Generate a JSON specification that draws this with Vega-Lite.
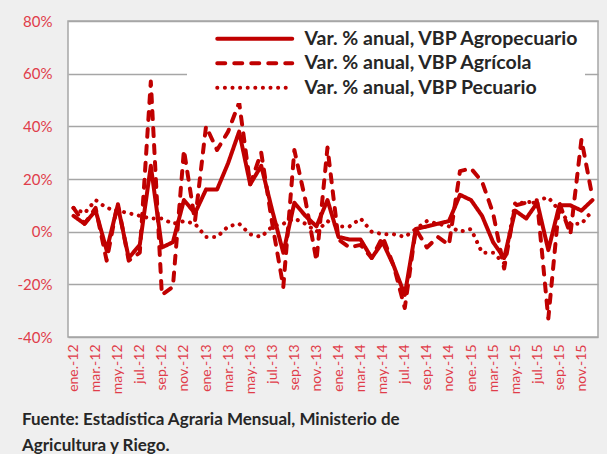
{
  "$schema": "https://vega.github.io/schema/vega-lite/v6.json",
  "width": 530,
  "height": 316,
  "autosize": {"type": "none"},
  "padding": {"left": 68, "top": 21, "right": 9, "bottom": 117},
  "background": "#efefef",
  "config": {
    "view": {"fill": "white", "stroke": "#a6a6a6", "strokeWidth": 1.5},
    "font": "Lato"
  },
  "title": {
    "text": ["Fuente: Estadística Agraria Mensual, Ministerio de", "Agricultura y Riego."],
    "orient": "bottom",
    "anchor": "start",
    "frame": "group",
    "dx": -46,
    "offset": 18,
    "font": "Lato",
    "fontSize": 17,
    "fontWeight": "bold",
    "color": "#262626",
    "lineHeight": 26
  },
  "data": {
    "values": [
      {"mes": "ene.-12", "Agropecuario": 6, "Agrícola": 9, "Pecuario": 9},
      {"mes": "feb.-12", "Agropecuario": 3, "Agrícola": 3, "Pecuario": 7},
      {"mes": "mar.-12", "Agropecuario": 8, "Agrícola": 9, "Pecuario": 12},
      {"mes": "abr.-12", "Agropecuario": -7, "Agrícola": -11, "Pecuario": 9},
      {"mes": "may.-12", "Agropecuario": 10, "Agrícola": 11, "Pecuario": 8},
      {"mes": "jun.-12", "Agropecuario": -10, "Agrícola": -11, "Pecuario": 7},
      {"mes": "jul.-12", "Agropecuario": -5, "Agrícola": -8, "Pecuario": 6},
      {"mes": "ago.-12", "Agropecuario": 25, "Agrícola": 57, "Pecuario": 5},
      {"mes": "sep.-12", "Agropecuario": -6, "Agrícola": -24, "Pecuario": 5},
      {"mes": "oct.-12", "Agropecuario": -4, "Agrícola": -21, "Pecuario": 3},
      {"mes": "nov.-12", "Agropecuario": 12, "Agrícola": 31, "Pecuario": 4},
      {"mes": "dic.-12", "Agropecuario": 7, "Agrícola": 4, "Pecuario": 3},
      {"mes": "ene.-13", "Agropecuario": 16, "Agrícola": 40, "Pecuario": -2},
      {"mes": "feb.-13", "Agropecuario": 16, "Agrícola": 31, "Pecuario": -2},
      {"mes": "mar.-13", "Agropecuario": 26, "Agrícola": 38, "Pecuario": 2},
      {"mes": "abr.-13", "Agropecuario": 38, "Agrícola": 49, "Pecuario": 3},
      {"mes": "may.-13", "Agropecuario": 18, "Agrícola": 18, "Pecuario": -1},
      {"mes": "jun.-13", "Agropecuario": 25, "Agrícola": 30, "Pecuario": -2},
      {"mes": "jul.-13", "Agropecuario": 8, "Agrícola": 3, "Pecuario": 2},
      {"mes": "ago.-13", "Agropecuario": -8, "Agrícola": -21, "Pecuario": 3},
      {"mes": "sep.-13", "Agropecuario": 11, "Agrícola": 31, "Pecuario": 5},
      {"mes": "oct.-13", "Agropecuario": 6, "Agrícola": 12, "Pecuario": 3},
      {"mes": "nov.-13", "Agropecuario": 2, "Agrícola": -11, "Pecuario": 0},
      {"mes": "dic.-13", "Agropecuario": 12, "Agrícola": 32, "Pecuario": 4},
      {"mes": "ene.-14", "Agropecuario": -2, "Agrícola": -3, "Pecuario": 2},
      {"mes": "feb.-14", "Agropecuario": -3, "Agrícola": -6, "Pecuario": 2},
      {"mes": "mar.-14", "Agropecuario": -3, "Agrícola": -5, "Pecuario": 5},
      {"mes": "abr.-14", "Agropecuario": -10, "Agrícola": -10, "Pecuario": 0},
      {"mes": "may.-14", "Agropecuario": -4, "Agrícola": -2, "Pecuario": -1},
      {"mes": "jun.-14", "Agropecuario": -13, "Agrícola": -13, "Pecuario": -1},
      {"mes": "jul.-14", "Agropecuario": -24, "Agrícola": -29, "Pecuario": -2},
      {"mes": "ago.-14", "Agropecuario": 1, "Agrícola": 1, "Pecuario": 1},
      {"mes": "sep.-14", "Agropecuario": 2, "Agrícola": -6, "Pecuario": 4},
      {"mes": "oct.-14", "Agropecuario": 3, "Agrícola": -2, "Pecuario": 3},
      {"mes": "nov.-14", "Agropecuario": 4, "Agrícola": -5, "Pecuario": 2},
      {"mes": "dic.-14", "Agropecuario": 14, "Agrícola": 23, "Pecuario": 0},
      {"mes": "ene.-15", "Agropecuario": 12, "Agrícola": 24, "Pecuario": 1},
      {"mes": "feb.-15", "Agropecuario": 6, "Agrícola": 19, "Pecuario": -8},
      {"mes": "mar.-15", "Agropecuario": -4, "Agrícola": 7, "Pecuario": -8},
      {"mes": "abr.-15", "Agropecuario": -10, "Agrícola": -14, "Pecuario": -12},
      {"mes": "may.-15", "Agropecuario": 8, "Agrícola": 10, "Pecuario": 11},
      {"mes": "jun.-15", "Agropecuario": 5, "Agrícola": 11, "Pecuario": 11},
      {"mes": "jul.-15", "Agropecuario": 11, "Agrícola": 11, "Pecuario": 12},
      {"mes": "ago.-15", "Agropecuario": -7, "Agrícola": -33, "Pecuario": 13},
      {"mes": "sep.-15", "Agropecuario": 10, "Agrícola": 11, "Pecuario": 8},
      {"mes": "oct.-15", "Agropecuario": 10, "Agrícola": -1, "Pecuario": 3},
      {"mes": "nov.-15", "Agropecuario": 8, "Agrícola": 35, "Pecuario": 3},
      {"mes": "dic.-15", "Agropecuario": 12, "Agrícola": 13, "Pecuario": 8}
    ]
  },
  "transform": [
    {"fold": ["Agropecuario", "Agrícola", "Pecuario"], "as": ["serie", "valor"]}
  ],
  "mark": {
    "type": "line",
    "color": "#c00000",
    "strokeWidth": 4,
    "strokeCap": "round",
    "strokeJoin": "round"
  },
  "encoding": {
    "x": {
      "field": "mes",
      "type": "ordinal",
      "sort": null,
      "scale": {"type": "point", "padding": 0.5},
      "axis": {
        "title": null,
        "values": ["ene.-12", "mar.-12", "may.-12", "jul.-12", "sep.-12", "nov.-12", "ene.-13", "mar.-13", "may.-13", "jul.-13", "sep.-13", "nov.-13", "ene.-14", "mar.-14", "may.-14", "jul.-14", "sep.-14", "nov.-14", "ene.-15", "mar.-15", "may.-15", "jul.-15", "sep.-15", "nov.-15"],
        "labelAngle": 270,
        "labelColor": "#e03c4a",
        "labelFont": "Lato",
        "labelFontSize": 14,
        "labelPadding": 7,
        "ticks": false,
        "domain": false,
        "grid": false
      }
    },
    "y": {
      "field": "valor",
      "type": "quantitative",
      "scale": {"domain": [-40, 80], "nice": false, "zero": false},
      "axis": {
        "title": null,
        "values": [-40, -20, 0, 20, 40, 60, 80],
        "labelExpr": "datum.value + '%'",
        "labelColor": "#e03c4a",
        "labelFont": "Lato",
        "labelFontSize": 15,
        "labelPadding": 16,
        "ticks": false,
        "domain": false,
        "grid": true,
        "gridColor": "#a6a6a6",
        "gridWidth": 1.5
      }
    },
    "strokeDash": {
      "field": "serie",
      "type": "nominal",
      "scale": {
        "domain": ["Agropecuario", "Agrícola", "Pecuario"],
        "range": [[1, 0], [8, 9], [0.1, 7.5]]
      },
      "legend": {
        "title": null,
        "orient": "none",
        "legendX": 119,
        "legendY": 3,
        "fillColor": "white",
        "padding": 5,
        "labelExpr": "'Var. % anual, VBP ' + datum.label",
        "labelFont": "Lato",
        "labelFontSize": 19.5,
        "labelFontWeight": "bold",
        "labelColor": "#262626",
        "symbolType": "M-5,0H5",
        "symbolSize": 225,
        "symbolStrokeWidth": 4,
        "symbolStrokeColor": "#c00000",
        "symbolOffset": 53,
        "labelOffset": 40,
        "rowPadding": 3.5,
        "labelLimit": 400,
        "encoding": {
          "symbols": {"strokeCap": {"value": "round"}}
        }
      }
    }
  }
}
